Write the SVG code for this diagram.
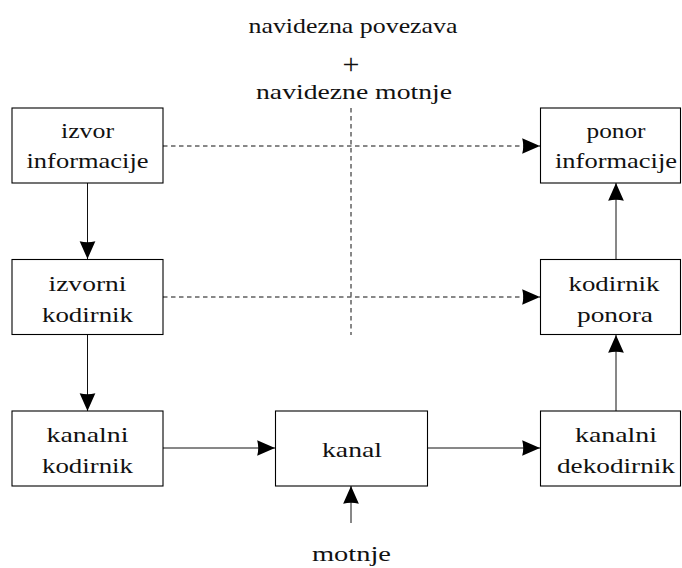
<svg xmlns="http://www.w3.org/2000/svg" width="682" height="568" viewBox="0 0 682 568">
<style>
.box{fill:#fff;stroke:#000;stroke-width:1.1}
.t{font-size:22px;fill:#111;text-anchor:middle}
.c{stroke:#111;stroke-width:1;fill:none}
.d{stroke:#111;stroke-width:1;fill:none;stroke-dasharray:4.5 3.5}
</style>
<defs>
<marker id="ah" markerUnits="userSpaceOnUse" markerWidth="22" markerHeight="22" viewBox="-19 -10 21 20" refX="0" refY="0" orient="auto">
<path d="M0,0 L-17,-7.5 Q-15,0 -17,7.5 Z" fill="#000"/>
</marker>
</defs>
<rect width="682" height="568" fill="#fff"/>
<g font-family="Liberation Serif, DejaVu Serif, serif">
<g id="title">
<text class="t" x="353" y="33" textLength="209" lengthAdjust="spacingAndGlyphs">navidezna povezava</text>
<text class="t" x="351" y="74" style="font-size:30px">+</text>
<text class="t" x="354" y="99" textLength="196" lengthAdjust="spacingAndGlyphs">navidezne motnje</text>
</g>
<g id="connectors">
<path class="d" d="M351,108 V335"/>
<path class="d" d="M163,146 H540" marker-end="url(#ah)"/>
<path class="d" d="M163,297 H540" marker-end="url(#ah)"/>
<path class="c" d="M87.5,183 V259" marker-end="url(#ah)"/>
<path class="c" d="M87.5,335 V411" marker-end="url(#ah)"/>
<path class="c" d="M163,448 H275" marker-end="url(#ah)"/>
<path class="c" d="M427,448 H540" marker-end="url(#ah)"/>
<path class="c" d="M616,411 V335" marker-end="url(#ah)"/>
<path class="c" d="M616,259 V183" marker-end="url(#ah)"/>
<path class="c" d="M351,523 V486" marker-end="url(#ah)"/>
</g>
<g id="izvor">
<rect class="box" x="12" y="108" width="151" height="75"/>
<text class="t" x="87.5" y="138" textLength="53" lengthAdjust="spacingAndGlyphs">izvor</text>
<text class="t" x="87.5" y="168" textLength="122" lengthAdjust="spacingAndGlyphs">informacije</text>
</g>
<g id="ponor">
<rect class="box" x="540.5" y="108" width="140" height="75"/>
<text class="t" x="616" y="138" textLength="59" lengthAdjust="spacingAndGlyphs">ponor</text>
<text class="t" x="616" y="168" textLength="122" lengthAdjust="spacingAndGlyphs">informacije</text>
</g>
<g id="izvorni">
<rect class="box" x="12" y="259.5" width="151" height="75"/>
<text class="t" x="87.5" y="291" textLength="78" lengthAdjust="spacingAndGlyphs">izvorni</text>
<text class="t" x="87.5" y="322" textLength="91" lengthAdjust="spacingAndGlyphs">kodirnik</text>
</g>
<g id="kodirnik_ponora">
<rect class="box" x="540.5" y="259.5" width="140" height="75"/>
<text class="t" x="614" y="291" textLength="91" lengthAdjust="spacingAndGlyphs">kodirnik</text>
<text class="t" x="615" y="322" textLength="76" lengthAdjust="spacingAndGlyphs">ponora</text>
</g>
<g id="kanalni_kodirnik">
<rect class="box" x="12" y="411" width="151" height="75"/>
<text class="t" x="87.5" y="442" textLength="82" lengthAdjust="spacingAndGlyphs">kanalni</text>
<text class="t" x="87.5" y="473" textLength="91" lengthAdjust="spacingAndGlyphs">kodirnik</text>
</g>
<g id="kanal">
<rect class="box" x="275.5" y="411" width="152" height="75"/>
<text class="t" x="352" y="457" textLength="60" lengthAdjust="spacingAndGlyphs">kanal</text>
</g>
<g id="kanalni_dekodirnik">
<rect class="box" x="540.5" y="411" width="140" height="75"/>
<text class="t" x="616" y="442" textLength="82" lengthAdjust="spacingAndGlyphs">kanalni</text>
<text class="t" x="616" y="473" textLength="118" lengthAdjust="spacingAndGlyphs">dekodirnik</text>
</g>
<g id="motnje">
<text class="t" x="351.5" y="561" textLength="79" lengthAdjust="spacingAndGlyphs">motnje</text>
</g>
</g>
</svg>
